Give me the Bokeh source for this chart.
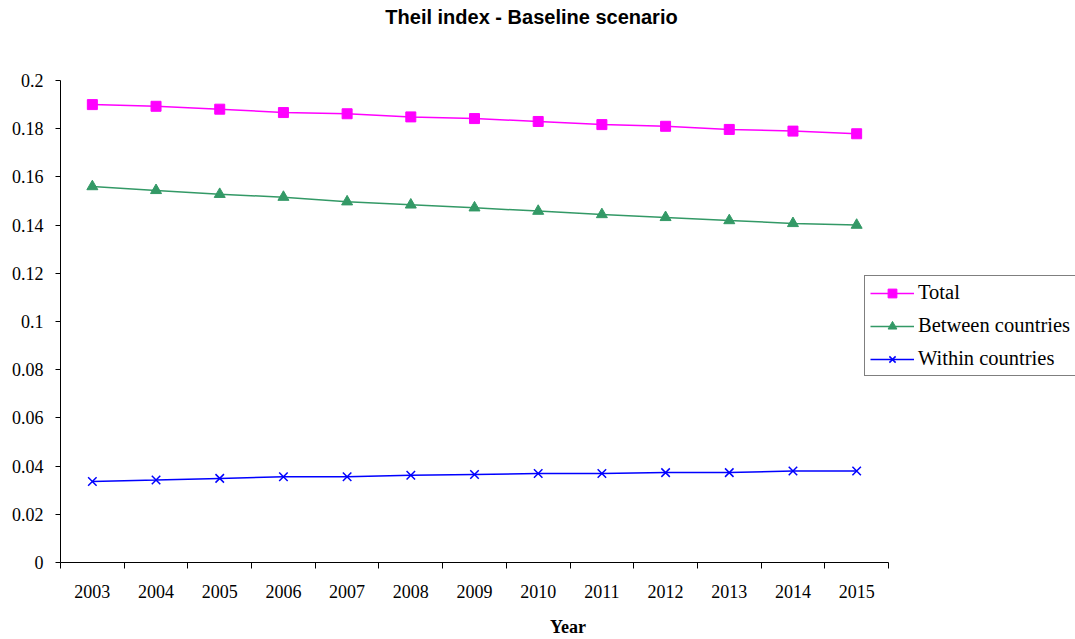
from bokeh.plotting import figure
from bokeh.models import Range1d, FixedTicker, Legend, LegendItem, Label
from bokeh.embed import file_html
from bokeh.resources import INLINE

years = [2003, 2004, 2005, 2006, 2007, 2008, 2009, 2010, 2011, 2012, 2013, 2014, 2015]
total = [0.1900, 0.1893, 0.1881, 0.1867, 0.1862, 0.1849, 0.1842, 0.1830, 0.1817, 0.1810, 0.1797, 0.1790, 0.1779]
between = [0.1560, 0.1544, 0.1528, 0.1516, 0.1497, 0.1484, 0.1472, 0.1458, 0.1444, 0.1432, 0.1419, 0.1407, 0.1400]
within = [0.0336, 0.0342, 0.0349, 0.0356, 0.0356, 0.0362, 0.0365, 0.0369, 0.0369, 0.0373, 0.0373, 0.0380, 0.0380]
y_ticks = [0, 0.02, 0.04, 0.06, 0.08, 0.1, 0.12, 0.14, 0.16, 0.18, 0.2]
y_tick_labels = ["0", "0.02", "0.04", "0.06", "0.08", "0.1", "0.12", "0.14", "0.16", "0.18", "0.2"]
title_text = "Theil index - Baseline scenario"
x_label = "Year"

SERIF = "Liberation Serif"
SANS = "Liberation Sans"

# frame spans the full width/top so the legend and title can sit in it;
# the axes are limited to the data area with bounds
PX_PER_YEAR = (888 - 60) / 13.0
x_start = years[0] - 0.5
x_end = x_start + (1075 - 60) / PX_PER_YEAR
y_end = 0.2 * 562 / 482.0

p = figure(width=1075, height=639, output_backend="svg", toolbar_location=None,
           x_range=Range1d(x_start, x_end), y_range=Range1d(0, y_end),
           min_border_left=60, min_border_right=0, min_border_top=0, min_border_bottom=77)
p.outline_line_color = None
p.xgrid.grid_line_color = None
p.ygrid.grid_line_color = None
p.background_fill_color = "white"
p.border_fill_color = "white"

# x axis
p.xaxis.bounds = (years[0] - 0.5, years[-1] + 0.5)
p.xaxis.ticker = FixedTicker(ticks=years, minor_ticks=[y - 0.5 for y in years] + [years[-1] + 0.5])
p.xaxis.major_tick_out = 0
p.xaxis.major_tick_in = 0
p.xaxis.minor_tick_out = 6
p.xaxis.minor_tick_in = 0
p.xaxis.minor_tick_line_color = "black"
p.xaxis.axis_line_color = "black"
p.xaxis.major_label_text_font = SERIF
p.xaxis.major_label_text_font_size = "18px"
p.xaxis.major_label_text_color = "black"
p.xaxis.major_label_standoff = 16
p.xaxis.axis_label = x_label
p.xaxis.axis_label_text_font = SERIF
p.xaxis.axis_label_text_font_size = "18px"
p.xaxis.axis_label_text_font_style = "bold"
p.xaxis.axis_label_text_color = "black"
p.xaxis.axis_label_standoff = 16

# y axis
p.yaxis.bounds = (0, 0.2)
p.yaxis.ticker = FixedTicker(ticks=y_ticks, minor_ticks=[])
p.yaxis.major_label_overrides = {t: l for t, l in zip(y_ticks, y_tick_labels)}
p.yaxis.major_tick_out = 5
p.yaxis.major_tick_in = 0
p.yaxis.major_tick_line_color = "black"
p.yaxis.axis_line_color = "black"
p.yaxis.major_label_text_font = SERIF
p.yaxis.major_label_text_font_size = "18px"
p.yaxis.major_label_text_color = "black"
p.yaxis.major_label_standoff = 12

colors = ["#FF00FF", "#339966", "#0000FF"]
names = ["Total", "Between countries", "Within countries"]
markers = ["square", "triangle", "x"]
sizes = [10, 11, 12]
series = [total, between, within]

items = []
for vals, c, n, m, s in zip(series, colors, names, markers, sizes):
    ln = p.line(years, vals, line_color=c, line_width=1.5)
    if m == "x":
        sc = p.scatter(years, vals, marker=m, size=s, line_color=c, line_width=1.5)
    else:
        sc = p.scatter(years, vals, marker=m, size=s, fill_color=c, line_color=c)
    items.append(LegendItem(label=n, renderers=[ln, sc]))

legend = Legend(items=items, location=(804, 186), margin=0, padding=5,
                glyph_width=44, glyph_height=22, label_height=22, spacing=10,
                label_standoff=4, label_text_font=SERIF, label_text_font_size="20.5px",
                label_text_color="black", border_line_color="black", border_line_width=1,
                background_fill_color="white", background_fill_alpha=1)
p.add_layout(legend, "center")

title = Label(x=x_start + (531 - 60) / PX_PER_YEAR, y=(562 - 16.5) / 2410.0,
              text=title_text, text_font=SANS, text_font_size="20px",
              text_font_style="bold", text_align="center", text_baseline="middle",
              text_color="black")
p.add_layout(title)

open("out.html", "w").write(file_html(p, INLINE))
